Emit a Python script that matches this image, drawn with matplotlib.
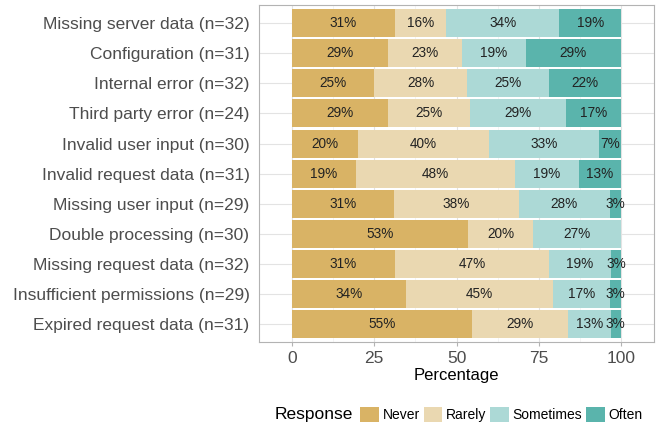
import numpy as np
import matplotlib
matplotlib.use('Agg')
import matplotlib.pyplot as plt
from matplotlib.patches import Patch

plt.rcParams['font.family'] = ['Liberation Sans', 'DejaVu Sans']

categories = ['Missing server data', 'Configuration', 'Internal error', 'Third party error',
              'Invalid user input', 'Invalid request data', 'Missing user input',
              'Double processing', 'Missing request data', 'Insufficient permissions',
              'Expired request data']
responses = ['Never', 'Rarely', 'Sometimes', 'Often']
never     = [10, 9, 8, 7, 6, 6, 9, 16, 10, 10, 17]
rarely    = [5, 7, 9, 6, 12, 15, 11, 6, 15, 13, 9]
sometimes = [11, 6, 8, 7, 10, 6, 8, 8, 6, 5, 4]
often     = [6, 9, 7, 4, 2, 4, 1, 0, 1, 1, 1]
colors = ['#d9b365', '#ead8b1', '#acd9d6', '#5ab4ac']

counts = np.array([never, rarely, sometimes, often], dtype=float)
n = counts.sum(axis=0)
pct = counts / n * 100
labels = [f'{c} (n={int(k)})' for c, k in zip(categories, n)]

fig = plt.figure(figsize=(6.56, 4.25), dpi=100)
ax = fig.add_axes([0.395, 0.195, 0.602, 0.793])

y = np.arange(len(categories))[::-1]
left = np.zeros(len(categories))
for i in range(4):
    ax.barh(y, pct[i], left=left, height=0.93, color=colors[i], zorder=2, linewidth=0)
    for yy, l, w in zip(y, left, pct[i]):
        if w > 0:
            ax.text(l + w / 2, yy, f'{w:.0f}%', ha='center', va='center',
                    fontsize=9.8, color='#222222', zorder=3)
    left += pct[i]

ax.set_xlim(-10, 110)
ax.set_ylim(-0.6, len(categories) - 0.4)
ax.set_yticks(y)
ax.set_yticklabels(labels)
ax.set_xticks([0, 25, 50, 75, 100])
ax.set_xticks([12.5, 37.5, 62.5, 87.5], minor=True)
ax.tick_params(axis='both', colors='#b3b3b3', labelcolor='#4d4d4d', labelsize=12.5, length=3)
ax.tick_params(axis='x', which='minor', length=0)
ax.tick_params(axis='y', length=0, pad=7)
ax.grid(True, which='major', color='#e3e3e3', linewidth=0.8, zorder=0)
ax.grid(True, which='minor', axis='x', color='#f0f0f0', linewidth=0.5, zorder=0)
for s in ax.spines.values():
    s.set_color('#b3b3b3')
ax.set_xlabel('Percentage', fontsize=12, labelpad=1)

fig.text(0.419, 0.025, 'Response', fontsize=12.5, va='center')
handles = [Patch(facecolor=c, label=r) for c, r in zip(colors, responses)]
fig.legend(handles=handles, ncol=4, loc='center left', bbox_to_anchor=(0.5385, 0.025),
           frameon=False, fontsize=10, handlelength=1.35, handleheight=1.35,
           handletextpad=0.25, columnspacing=0.28, borderpad=0)

fig.savefig('out.png', dpi=100)
